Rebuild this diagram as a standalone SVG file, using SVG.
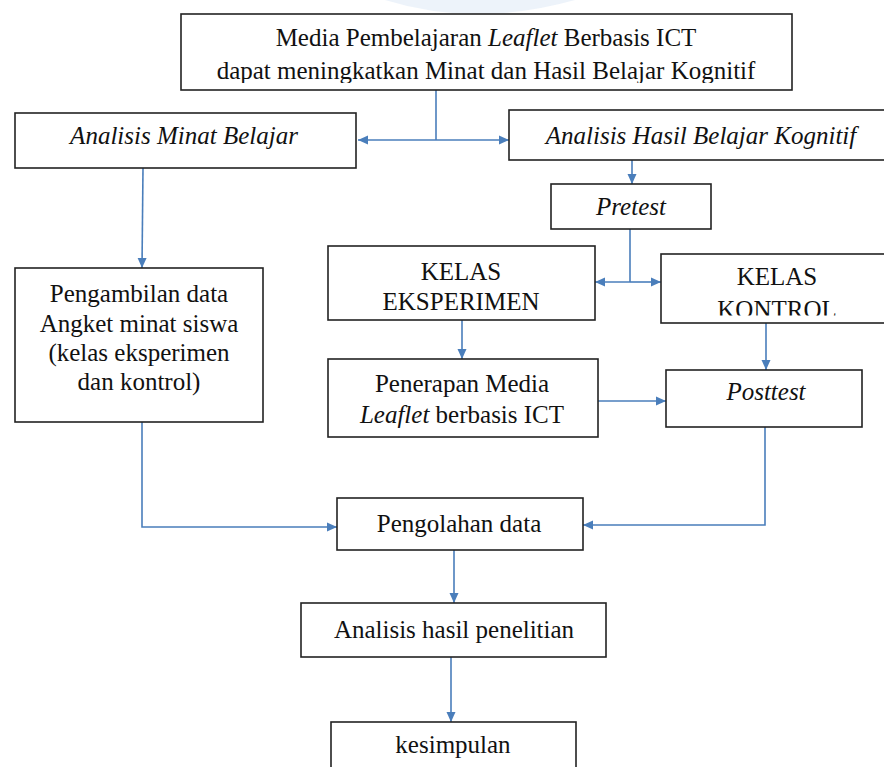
<svg xmlns="http://www.w3.org/2000/svg" width="884" height="767" viewBox="0 0 884 767">
<style>
.box{fill:#fff;stroke:#222;stroke-width:1.6}
.t{font-family:"Liberation Serif","Times New Roman",serif;font-size:25px;fill:#111;text-anchor:middle}
.i{font-style:italic}
.c{fill:none;stroke:#4a7ebb;stroke-width:1.6}
</style>
<defs>
<marker id="ah" markerUnits="userSpaceOnUse" markerWidth="11" markerHeight="10" refX="10" refY="5" orient="auto"><path d="M0,0.5 L10,5 L0,9.5 z" fill="#4a7ebb"/></marker>
<clipPath id="clipTop"><rect x="181" y="14" width="611" height="69"/></clipPath>
<clipPath id="clipKon"><rect x="661" y="254" width="223" height="61.5"/></clipPath>
</defs>
<rect width="884" height="767" fill="#fff"/>
<path d="M385,0 Q475,28 575,0 Z" fill="#e6eef8" opacity="0.7"/>

<g id="connectors">
<path class="c" d="M436,90 V140"/>
<path class="c" d="M436,140 H358" marker-end="url(#ah)"/>
<path class="c" d="M436,140 H509" marker-end="url(#ah)"/>
<path class="c" d="M143,168 L142,268" marker-end="url(#ah)"/>
<path class="c" d="M632,160 V184" marker-end="url(#ah)"/>
<path class="c" d="M630,229 V282"/>
<path class="c" d="M630,282 H595" marker-end="url(#ah)"/>
<path class="c" d="M630,282 H661" marker-end="url(#ah)"/>
<path class="c" d="M462,320 V359" marker-end="url(#ah)"/>
<path class="c" d="M766,323 V370" marker-end="url(#ah)"/>
<path class="c" d="M598,401 H666" marker-end="url(#ah)"/>
<path class="c" d="M142,422 V527 H337" marker-end="url(#ah)"/>
<path class="c" d="M765,427 V525 H583" marker-end="url(#ah)"/>
<path class="c" d="M454,550 V603" marker-end="url(#ah)"/>
<path class="c" d="M451,657 V722" marker-end="url(#ah)"/>
</g>

<g id="n-top">
<rect class="box" x="181" y="14" width="611" height="76"/>
<g clip-path="url(#clipTop)">
<text class="t" x="486" y="46">Media Pembelajaran <tspan class="i">Leaflet</tspan> Berbasis ICT</text>
<text class="t" x="486" y="79">dapat meningkatkan Minat dan Hasil Belajar Kognitif</text>
</g>
</g>

<g id="n-minat">
<rect class="box" x="15" y="113" width="341" height="55"/>
<text class="t i" x="184" y="144">Analisis Minat Belajar</text>
</g>

<g id="n-hasil">
<rect class="box" x="509" y="110" width="380" height="50"/>
<text class="t i" x="701" y="144">Analisis Hasil Belajar Kognitif</text>
</g>

<g id="n-pretest">
<rect class="box" x="551" y="184" width="160" height="45"/>
<text class="t i" x="631" y="215">Pretest</text>
</g>

<g id="n-eksperimen">
<rect class="box" x="328" y="246" width="267" height="74"/>
<text class="t" x="461" y="280">KELAS</text>
<text class="t" x="461" y="310">EKSPERIMEN</text>
</g>

<g id="n-kontrol">
<rect class="box" x="661" y="254" width="230" height="69"/>
<text class="t" x="777" y="285">KELAS</text>
<g clip-path="url(#clipKon)"><text class="t" x="777" y="318">KONTROL</text></g>
</g>

<g id="n-pengambilan">
<rect class="box" x="15" y="268" width="248" height="154"/>
<text class="t" x="139" y="302">Pengambilan data</text>
<text class="t" x="139" y="332">Angket minat siswa</text>
<text class="t" x="139" y="361">(kelas eksperimen</text>
<text class="t" x="139" y="390">dan kontrol)</text>
</g>

<g id="n-penerapan">
<rect class="box" x="328" y="359" width="270" height="78"/>
<text class="t" x="462" y="392">Penerapan Media</text>
<text class="t" x="462" y="423"><tspan class="i">Leaflet</tspan> berbasis ICT</text>
</g>

<g id="n-posttest">
<rect class="box" x="666" y="370" width="196" height="57"/>
<text class="t i" x="766" y="400">Posttest</text>
</g>

<g id="n-pengolahan">
<rect class="box" x="337" y="498" width="246" height="52"/>
<text class="t" x="459" y="532">Pengolahan data</text>
</g>

<g id="n-analisis">
<rect class="box" x="301" y="603" width="305" height="54"/>
<text class="t" x="454" y="638">Analisis hasil penelitian</text>
</g>

<g id="n-kesimpulan">
<rect class="box" x="331" y="722" width="245" height="60"/>
<text class="t" x="453" y="753">kesimpulan</text>
</g>
</svg>
